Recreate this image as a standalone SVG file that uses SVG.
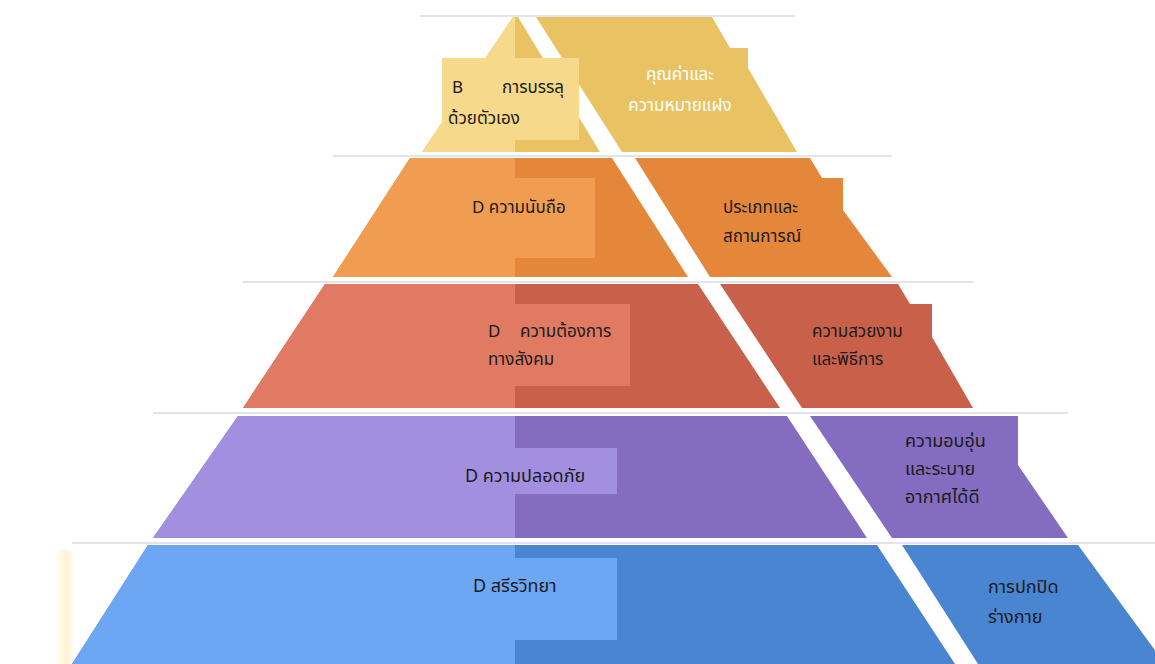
<svg xmlns="http://www.w3.org/2000/svg" width="1155" height="664" viewBox="0 0 1155 664">
<defs>
<style>
text{font-family:"Noto Sans Thai","Tahoma","DejaVu Sans","Liberation Sans",sans-serif;font-size:17px;fill:#1b1b1b}
.big{font-size:18px}
.w{fill:#ffffff}
.rule{stroke:#e3e3ea;stroke-width:2}
.yL{fill:#f6d98a}.yD{fill:#e9c363}
.oL{fill:#f09d52}.oD{fill:#e5873a}
.rL{fill:#e07a62}.rD{fill:#c9614a}
.pL{fill:#a38fdf}.pD{fill:#846dc0}
.bL{fill:#6da6f3}.bD{fill:#4a85d1}
</style>
<linearGradient id="cream" x1="0" y1="0" x2="1" y2="0">
<stop offset="0" stop-color="#fff7e0" stop-opacity="0"/>
<stop offset="0.6" stop-color="#fff3d2" stop-opacity="1"/>
<stop offset="1" stop-color="#fff7e0" stop-opacity="0"/>
</linearGradient>
</defs>
<rect width="1155" height="664" fill="#ffffff"/>
<rect x="52" y="550" width="24" height="114" fill="url(#cream)"/>
<g id="rules">
<line class="rule" x1="420" y1="16" x2="795" y2="16"/>
<line class="rule" x1="333" y1="156" x2="892" y2="156"/>
<line class="rule" x1="243" y1="282" x2="973" y2="282"/>
<line class="rule" x1="153" y1="413" x2="1068" y2="413"/>
<line class="rule" x1="72" y1="543" x2="1155" y2="543"/>
</g>
<g id="tier-yellow">
<polygon class="yD" points="513,17 518,17 600,152 422,152"/>
<polygon class="yL" points="513,17 515,17 515,152 422,152"/>
<polygon class="yD" points="536,17 712,17 730,48 748,48 748,68 797,152 622,152"/>
<rect class="yL" x="442" y="58" width="137" height="82"/>
<text x="452" y="93">B</text>
<text x="564" y="93" text-anchor="end">การบรรลุ</text>
<text x="448" y="124">ด้วยตัวเอง</text>
<text class="w" x="680" y="80" text-anchor="middle">คุณค่าและ</text>
<text class="w" x="680" y="111" text-anchor="middle">ความหมายแฝง</text>
</g>
<g id="tier-orange">
<polygon class="oD" points="410,158 612,158 688,277 333,277"/>
<polygon class="oL" points="410,158 515,158 515,277 333,277"/>
<polygon class="oD" points="635,158 810,158 822,178 843,178 843,210 892,277 710,277"/>
<rect class="oL" x="514" y="178" width="81" height="80"/>
<text x="472" y="213">D ความนับถือ</text>
<text x="723" y="213">ประเภทและ</text>
<text x="723" y="242">สถานการณ์</text>
</g>
<g id="tier-red">
<polygon class="rD" points="325,284 698,284 780,408 243,408"/>
<polygon class="rL" points="325,284 515,284 515,408 243,408"/>
<polygon class="rD" points="720,284 898,284 910,304 932,304 932,337 973,408 802,408"/>
<rect class="rL" x="514" y="304" width="116" height="82"/>
<text x="488" y="337">D</text>
<text x="520" y="337">ความต้องการ</text>
<text x="488" y="365">ทางสังคม</text>
<text x="812" y="337">ความสวยงาม</text>
<text x="812" y="365">และพิธีการ</text>
</g>
<g id="tier-purple">
<polygon class="pD" points="238,416 787,416 867,538 153,538"/>
<polygon class="pL" points="238,416 515,416 515,538 153,538"/>
<polygon class="pD" points="810,416 1018,416 1018,465 1068,538 892,538"/>
<rect class="pL" x="514" y="448" width="103" height="46"/>
<text class="big" x="465" y="482">D ความปลอดภัย</text>
<text class="big" x="905" y="447">ความอบอุ่น</text>
<text class="big" x="905" y="475">และระบาย</text>
<text class="big" x="905" y="503">อากาศได้ดี</text>
</g>
<g id="tier-blue">
<polygon class="bD" points="148,545 877,545 955,664 72,664"/>
<polygon class="bL" points="148,545 515,545 515,664 72,664"/>
<polygon class="bD" points="902,545 1078,545 1165,664 978,664"/>
<rect class="bL" x="514" y="558" width="103" height="82"/>
<text class="big" x="473" y="592">D สรีรวิทยา</text>
<text class="big" x="988" y="593">การปกปิด</text>
<text class="big" x="988" y="623">ร่างกาย</text>
</g>
</svg>
